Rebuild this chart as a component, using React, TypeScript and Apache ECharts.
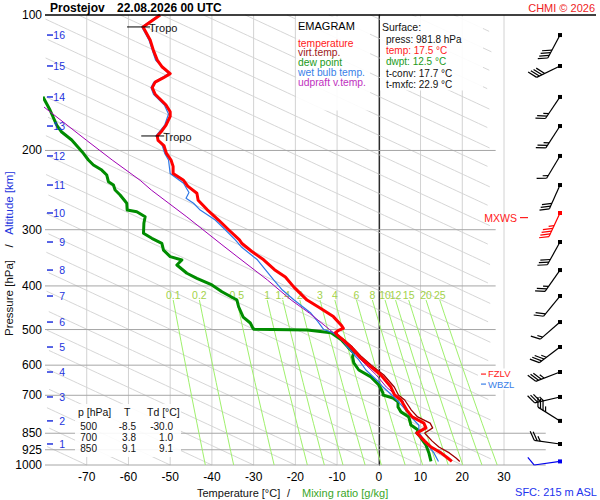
import React, { useEffect, useRef } from "react";
import * as echarts from "echarts";

const FONT = "'Liberation Sans', Arial, Helvetica, sans-serif";

const stationName = "Prostejov";
const stationTime = "22.08.2026 00 UTC";

// axes
const pressureTicks = [100, 200, 300, 400, 500, 600, 700, 850, 925, 1000];
const tempTicks = [-70, -60, -50, -40, -30, -20, -10, 0, 10, 20, 30];
const mixRatios = [0.1, 0.2, 0.5, 1, 1.4, 2, 3, 4, 6, 8, 10, 12, 15, 20, 25];

// temperature profile (hPa, °C)
const tempP = [100, 106.3, 113.6, 120, 125.9, 130.5, 135, 138, 141, 145, 150, 158.5, 164, 168, 175.6, 181, 185.7, 190, 195, 203, 210, 217, 225, 233, 240, 249, 258, 271, 285.5, 300, 316, 322, 335, 350, 368, 382, 402, 430, 449, 468, 489, 497, 503, 508, 514, 527, 547, 575, 600, 631, 671, 699, 717, 755, 782, 807, 827, 840, 849, 858, 885, 912, 940, 965, 981.8];
const tempT = [-52.4, -56.5, -54.8, -54.0, -53.1, -51.9, -50.0, -51.7, -53.6, -54.3, -53.6, -51.0, -50.0, -50.0, -51.0, -52.0, -53.1, -52.9, -51.5, -50.9, -49.8, -49.3, -49.3, -46.8, -45.8, -43.6, -43.3, -41.1, -38.4, -36.0, -33.4, -32.8, -30.5, -27.6, -25.0, -22.4, -20.4, -17.2, -13.9, -10.9, -9.0, -8.5, -9.8, -10.4, -10.0, -8.6, -6.7, -4.6, -2.4, 0.5, 2.9, 3.8, 5.3, 6.7, 8.0, 10.8, 11.3, 10.0, 9.1, 9.6, 11.0, 12.5, 14.9, 16.5, 17.5];

// virtual temperature
const virtP = [497, 503, 508, 514, 527, 547, 575, 600, 631, 671, 699, 717, 755, 782, 807, 827, 840, 849, 858, 885, 912, 940, 965, 981.8];
const virtT = [-8.4, -9.6, -10.2, -9.8, -8.3, -6.3, -4.1, -1.8, 1.2, 3.7, 4.7, 6.2, 7.8, 9.3, 12.3, 12.9, 11.8, 11.0, 11.4, 12.8, 14.4, 16.9, 18.5, 19.4];

// dew point
const dewP = [152, 162.6, 175.6, 182, 189.6, 202.9, 210, 215.4, 221.1, 226.8, 234.6, 238.7, 244.9, 251.2, 262.1, 271.3, 273.6, 280.7, 290.3, 305.6, 313.5, 321.7, 333, 344.4, 350.3, 359.4, 374.9, 384.8, 398.1, 412.1, 430, 445, 469, 483.6, 496, 499, 501, 508, 527, 547, 564, 575, 593, 615, 637, 664, 692, 699, 710, 724, 743, 762, 782, 815, 836, 849, 858, 903, 940, 981.8];
const dewT = [-80.5, -78.8, -77.2, -76.0, -73.6, -70.8, -69.6, -68.4, -66.4, -65.2, -64.8, -63.6, -63.2, -62.0, -60.4, -60.3, -58.0, -56.0, -56.3, -56.4, -54.4, -52.0, -51.6, -50.0, -47.2, -48.4, -46.0, -43.6, -40.0, -37.6, -34.0, -33.6, -32.5, -30.8, -30.2, -30.0, -17.1, -11.5, -9.0, -7.4, -6.0, -6.3, -6.0, -4.8, -1.9, 0.0, 1.0, 1.0, 3.4, 4.6, 4.6, 5.3, 7.2, 7.7, 9.4, 9.1, 9.6, 11.3, 12.0, 12.5];

// wet bulb temperature
const wetP = [100, 106.3, 113.6, 125.9, 135, 141, 145, 150, 158.5, 166, 175.6, 185.7, 195, 203, 210, 225, 233, 236.6, 248, 255.5, 262, 271.3, 285.5, 300, 316, 327.3, 350, 388, 408.5, 430, 459.5, 480, 496, 500, 508, 520, 547, 584, 615, 654, 671, 706, 743, 782, 816, 845, 880, 940, 981.8];
const wetT = [-52.7, -56.8, -55.1, -53.5, -50.4, -53.9, -54.6, -54.0, -51.4, -50.4, -51.3, -53.4, -51.9, -51.3, -50.4, -50.0, -47.8, -46.8, -45.5, -46.2, -44.4, -42.8, -39.2, -36.8, -34.4, -33.0, -29.1, -25.2, -23.1, -20.3, -16.3, -14.6, -13.5, -13.2, -11.0, -9.3, -7.5, -4.8, -3.1, 0.0, 1.0, 3.6, 5.8, 7.7, 9.6, 9.6, 10.8, 13.2, 14.3];

// updraft virtual temperature
const updP = [160, 190, 210, 233, 245, 281, 324, 344, 388, 430, 460, 500, 509, 546, 584, 631, 671, 706, 723];
const updT = [-80.3, -70.0, -63.9, -57.2, -54.5, -46.0, -37.6, -34.0, -26.7, -21.0, -16.6, -11.8, -10.8, -7.2, -4.3, -0.6, 1.8, 4.6, 6.0];

// tropopauses
const tropoP = [106.3, 185.7];
const tropoT = [-56.5, -53.1];

// altitude marks (km) and their pressure
const altKm = [16, 15, 14, 13, 12, 11, 10, 9, 8, 7, 6, 5, 4, 3, 2, 1];
const altP = [110.8, 129.8, 152.1, 176.5, 205.7, 238.7, 275.4, 319.5, 368.8, 421.2, 481.2, 546.8, 621.4, 706, 798, 898];

// wind (at altitude marks + surface)
const windP = [...altP, 981.8];
const windDir = [208, 244, 214, 213, 211, 204, 205, 209, 215, 219, 229, 233, 249, 257, 302, 278, 262];
const windSpd = [40, 40, 25, 25, 15, 30, 45, 30, 25, 20, 15, 35, 35, 35, 35, 25, 10];
const mxwsIndex = 6;

// special levels
const levelNames = ["MXWS", "FZLV", "WBZL"];
const levelP = [282, 628, 661];

// surface
const sfcPress = 981.8;
const sfcTemp = 17.5;
const sfcDwpt = 12.5;
const tConv = 17.7;
const tMxfc = 22.9;
const sfcHeight = 215;

// table
const tableP = [500, 700, 850];
const tableT = [-8.5, 3.8, 9.1];
const tableTd = [-30.0, 1.0, 9.1];

const STATION = 55; // x (px offset) of barb station inside wind grid
const ADIABAT_SLOPE = 232; // °C per decade of pressure (background guide lines)

const pts = (P: number[], T: number[]) => P.map((p, i) => [T[i], p]);

function tdFromMix(w: number, p: number) {
  const e = (w * p) / (622 + w);
  const l = Math.log(e / 6.112);
  return (243.5 * l) / (17.67 - l);
}

function txt(x: number, y: number, text: string, fill: string, size: number, extra: any = {}) {
  return {
    type: "text",
    x,
    y,
    z: 20,
    silent: true,
    style: {
      text,
      fill,
      fontSize: size,
      fontFamily: FONT,
      align: "left",
      verticalAlign: "middle",
      ...extra,
    },
  };
}

function buildOption(): any {
  const guideBases: number[] = [];
  for (let t = -80; t <= 270; t += 10) guideBases.push(t);

  const profile = (P: number[], T: number[], color: string, width: number, z: number) => ({
    type: "line",
    xAxisIndex: 0,
    yAxisIndex: 0,
    data: pts(P, T),
    showSymbol: false,
    symbol: "none",
    silent: true,
    z,
    lineStyle: { color, width, join: "round" },
  });

  const rowY = (i: number) => 426.5 + i * 11;

  const graphic: any[] = [
    { type: "line", z: 20, shape: { x1: 45, y1: 15, x2: 596, y2: 15 }, style: { stroke: "#000", lineWidth: 1.5 } },
    txt(50, 7.5, stationName, "#000", 12, { fontWeight: "bold" }),
    txt(117, 7.5, stationTime, "#000", 12, { fontWeight: "bold" }),
    txt(595, 7.5, "CHMI © 2026", "#ee1c24", 11, { align: "right" }),
    // legend box
    { type: "rect", z: 15, shape: { x: 296, y: 16.5, width: 74, height: 94 }, style: { fill: "rgba(255,255,255,0.9)" } },
    txt(298, 26, "EMAGRAM", "#000", 11),
    txt(298, 43, "temperature", "#ff2020", 10.3),
    txt(298, 52.5, "virt.temp.", "#a01818", 10.3),
    txt(298, 62, "dew point", "#1a9a1a", 10.3),
    txt(298, 72, "wet bulb temp.", "#3a7fe8", 10.3),
    txt(298, 82, "udpraft v.temp.", "#c030c0", 10.3),
    // surface box
    { type: "rect", z: 15, shape: { x: 380, y: 16.5, width: 103, height: 74 }, style: { fill: "rgba(255,255,255,0.9)" } },
    txt(382, 27, "Surface:", "#111", 10.5),
    txt(386, 39.5, `press: ${sfcPress.toFixed(1)} hPa`, "#111", 10),
    txt(386, 50.5, `temp: ${sfcTemp.toFixed(1)} °C`, "#ff2020", 10),
    txt(386, 61.5, `dwpt: ${sfcDwpt.toFixed(1)} °C`, "#1a9a1a", 10),
    txt(386, 73.5, `t-conv: ${tConv.toFixed(1)} °C`, "#111", 10),
    txt(386, 84.5, `t-mxfc: ${tMxfc.toFixed(1)} °C`, "#111", 10),
    // table
    { type: "rect", z: 15, shape: { x: 75, y: 404, width: 106, height: 53 }, style: { fill: "rgba(255,255,255,0.9)" } },
    txt(78, 412, "p [hPa]", "#111", 10.5),
    txt(124, 412, "T", "#111", 10.5),
    txt(147, 412, "Td [°C]", "#111", 10.5),
    ...tableP.flatMap((p, i) => [
      txt(97, rowY(i), String(p), "#111", 10, { align: "right" }),
      txt(136, rowY(i), tableT[i].toFixed(1), "#111", 10, { align: "right" }),
      txt(173, rowY(i), tableTd[i].toFixed(1), "#111", 10, { align: "right" }),
    ]),
    // axis titles
    txt(197, 493, "Temperature [°C]", "#111", 11),
    txt(287, 493, "/", "#111", 11),
    txt(302, 493, "Mixing ratio [g/kg]", "#3aa62a", 11),
    txt(597, 492, `SFC: ${sfcHeight} m ASL`, "#2233ee", 11, { align: "right" }),
    { ...txt(9, 298, "Pressure [hPa]", "#111", 11.5, { align: "center" }), rotation: Math.PI / 2 },
    { ...txt(9, 246, "/", "#111", 11.5, { align: "center" }), rotation: Math.PI / 2 },
    { ...txt(9, 203, "Altitude [km]", "#2233dd", 11.5, { align: "center" }), rotation: Math.PI / 2 },
  ];

  const series: any[] = [
    // diagonal guide lines (adiabats)
    {
      type: "custom",
      xAxisIndex: 0,
      yAxisIndex: 0,
      silent: true,
      z: 1,
      data: guideBases.map((t) => [0, 500, t]),
      renderItem: (_p: any, api: any) => {
        const tb = api.value(2);
        const points: number[][] = [];
        for (let k = 0; k <= 220; k++) {
          const p = 100 * Math.pow(10, k / 220);
          const T = tb + ADIABAT_SLOPE * Math.log10(p / 1000);
          if (T >= -80 && T <= 27) points.push(api.coord([T, p]));
        }
        if (points.length < 2) return null;
        return { type: "polyline", shape: { points }, style: { stroke: "#d6d6d6", lineWidth: 1, fill: null } };
      },
    },
    // isotherms
    {
      type: "custom",
      xAxisIndex: 0,
      yAxisIndex: 0,
      silent: true,
      z: 1,
      data: tempTicks.map((t) => [t, 500]),
      renderItem: (_p: any, api: any) => {
        const t = api.value(0);
        const a = api.coord([t, 100]);
        const b = api.coord([t, 1000]);
        return {
          type: "line",
          shape: { x1: a[0], y1: a[1], x2: b[0], y2: b[1] },
          style: { stroke: t === 0 ? "#8a8a8a" : "#d2d2d2", lineWidth: 1 },
        };
      },
    },
    // isobars
    {
      type: "custom",
      xAxisIndex: 0,
      yAxisIndex: 0,
      silent: true,
      clip: false,
      z: 1,
      data: pressureTicks.slice(1).map((p) => [0, p]),
      renderItem: (_p: any, api: any) => {
        const p = api.value(1);
        const a = api.coord([-80, p]);
        const b = api.coord([p >= 850 ? 40 : 28, p]);
        return {
          type: "line",
          shape: { x1: a[0], y1: a[1], x2: b[0], y2: b[1] },
          style: { stroke: "#a6a6a6", lineWidth: 1 },
        };
      },
    },
    // mixing ratio lines
    {
      type: "custom",
      xAxisIndex: 0,
      yAxisIndex: 0,
      silent: true,
      clip: false,
      z: 1,
      data: mixRatios.map((w, i) => [0, 500, i]),
      renderItem: (_p: any, api: any) => {
        const w = mixRatios[api.value(2)];
        const points: number[][] = [];
        for (let k = 0; k <= 12; k++) {
          const p = 430 * Math.pow(1000 / 430, k / 12);
          points.push(api.coord([tdFromMix(w, p), p]));
        }
        const top = api.coord([tdFromMix(w, 430), 430]);
        return {
          type: "group",
          children: [
            { type: "polyline", shape: { points }, style: { stroke: "#9ff06c", lineWidth: 1, fill: null } },
            {
              type: "text",
              x: top[0],
              y: top[1] - 5,
              style: {
                text: String(w),
                fill: "#a3d24a",
                fontSize: 10.5,
                fontFamily: FONT,
                align: "center",
                verticalAlign: "middle",
              },
            },
          ],
        };
      },
    },
    // pressure labels
    {
      type: "custom",
      xAxisIndex: 0,
      yAxisIndex: 0,
      silent: true,
      clip: false,
      z: 5,
      data: pressureTicks.map((p) => [-80, p]),
      renderItem: (_p: any, api: any) => {
        const p = api.value(1);
        const c = api.coord([-80, p]);
        return {
          type: "text",
          x: c[0] - 3,
          y: c[1],
          style: { text: String(p), fill: "#000", fontSize: 12, fontFamily: FONT, align: "right", verticalAlign: "middle" },
        };
      },
    },
    // altitude marks
    {
      type: "custom",
      xAxisIndex: 0,
      yAxisIndex: 0,
      silent: true,
      clip: false,
      z: 5,
      data: altKm.map((k, i) => [-80, altP[i], k]),
      renderItem: (_p: any, api: any) => {
        const c = api.coord([-80, api.value(1)]);
        return {
          type: "group",
          children: [
            { type: "line", shape: { x1: c[0] + 2, y1: c[1], x2: c[0] + 8, y2: c[1] }, style: { stroke: "#2233dd", lineWidth: 1.5 } },
            {
              type: "text",
              x: c[0] + 20,
              y: c[1],
              style: { text: String(api.value(2)), fill: "#2233dd", fontSize: 10.5, fontFamily: FONT, align: "right", verticalAlign: "middle" },
            },
          ],
        };
      },
    },
    // tropopause marks
    {
      type: "custom",
      xAxisIndex: 0,
      yAxisIndex: 0,
      silent: true,
      clip: false,
      z: 9,
      data: tropoP.map((p, i) => [tropoT[i], p]),
      renderItem: (_p: any, api: any) => {
        const c = api.coord([api.value(0), api.value(1)]);
        return {
          type: "group",
          children: [
            { type: "line", shape: { x1: c[0] - 16, y1: c[1], x2: c[0] + 7, y2: c[1] }, style: { stroke: "#000", lineWidth: 1 } },
            {
              type: "text",
              x: c[0] + 6,
              y: c[1] + 1,
              style: { text: "Tropo", fill: "#111", fontSize: 11, fontFamily: FONT, align: "left", verticalAlign: "middle" },
            },
          ],
        };
      },
    },
    profile(dewP, dewT, "#008c00", 3, 3),
    profile(wetP, wetT, "#2f78e6", 1.2, 4),
    profile(updP, updT, "#a000b4", 1, 5),
    profile(virtP, virtT, "#9c0000", 1.3, 6),
    profile(tempP, tempT, "#ff0000", 3, 7),
    // wind barbs
    {
      type: "custom",
      xAxisIndex: 1,
      yAxisIndex: 1,
      silent: true,
      clip: false,
      z: 8,
      data: windP.map((p, i) => [STATION, p, i]),
      renderItem: (_p: any, api: any) => {
        const i = api.value(2);
        const c = api.coord([STATION, windP[i]]);
        const col = i === mxwsIndex ? "#ff0000" : i === windP.length - 1 ? "#0000ee" : "#000";
        const d = (windDir[i] * Math.PI) / 180;
        const ux = Math.sin(d);
        const uy = -Math.cos(d);
        const L = 26;
        const tip = [c[0] + ux * L, c[1] + uy * L];
        const px = -uy;
        const py = ux;
        const ang = (32 * Math.PI) / 180;
        const fx = px * Math.cos(ang) + ux * Math.sin(ang);
        const fy = py * Math.cos(ang) + uy * Math.sin(ang);
        const children: any[] = [
          { type: "line", shape: { x1: c[0], y1: c[1], x2: tip[0], y2: tip[1] }, style: { stroke: col, lineWidth: 1.2 } },
          { type: "rect", shape: { x: c[0] - 2, y: c[1] - 2, width: 4, height: 4 }, style: { fill: col } },
        ];
        const spd = windSpd[i];
        const full = Math.floor(spd / 10);
        const half = spd % 10 >= 5 ? 1 : 0;
        let pos = 0;
        for (let k = 0; k < full; k++) {
          const bx = tip[0] - ux * pos;
          const by = tip[1] - uy * pos;
          children.push({ type: "line", shape: { x1: bx, y1: by, x2: bx + fx * 10, y2: by + fy * 10 }, style: { stroke: col, lineWidth: 1.2 } });
          pos += 3;
        }
        if (half) {
          if (full === 0) pos = 3;
          const bx = tip[0] - ux * pos;
          const by = tip[1] - uy * pos;
          children.push({ type: "line", shape: { x1: bx, y1: by, x2: bx + fx * 5.5, y2: by + fy * 5.5 }, style: { stroke: col, lineWidth: 1.2 } });
        }
        return { type: "group", children };
      },
    },
    // special level labels
    {
      type: "custom",
      xAxisIndex: 1,
      yAxisIndex: 1,
      silent: true,
      clip: false,
      z: 16,
      data: levelP.map((p, i) => [STATION, p, i]),
      renderItem: (_p: any, api: any) => {
        const i = api.value(2);
        const c = api.coord([STATION, levelP[i]]);
        const col = i === 2 ? "#3a7fe8" : "#ff2020";
        if (i === 0) {
          return {
            type: "group",
            children: [
              { type: "line", shape: { x1: c[0] - 40, y1: c[1], x2: c[0] - 32, y2: c[1] }, style: { stroke: col, lineWidth: 1.2 } },
              {
                type: "text",
                x: c[0] - 43,
                y: c[1],
                style: { text: levelNames[i], fill: col, fontSize: 10.5, fontFamily: FONT, align: "right", verticalAlign: "middle" },
              },
            ],
          };
        }
        const dy = i === 1 ? -0.7 : 0.7;
        return {
          type: "group",
          children: [
            { type: "rect", shape: { x: c[0] - 82, y: c[1] - 5.5, width: 45, height: 11 }, style: { fill: "#fff" } },
            { type: "line", shape: { x1: c[0] - 79, y1: c[1], x2: c[0] - 74, y2: c[1] }, style: { stroke: col, lineWidth: 1.2 } },
            {
              type: "text",
              x: c[0] - 72,
              y: c[1] + dy,
              style: { text: levelNames[i], fill: col, fontSize: 9.5, fontFamily: FONT, align: "left", verticalAlign: "middle" },
            },
          ],
        };
      },
    },
  ];

  return {
    animation: false,
    backgroundColor: "#ffffff",
    grid: [
      { left: 45, top: 15, width: 459, height: 450 },
      { left: 505, top: 15, width: 95, height: 450 },
    ],
    xAxis: [
      {
        gridIndex: 0,
        type: "value",
        min: -80,
        max: 30,
        interval: 10,
        axisLine: { show: false },
        axisTick: { show: false },
        splitLine: { show: false },
        axisLabel: {
          fontSize: 12,
          color: "#000",
          fontFamily: FONT,
          margin: 6,
          formatter: (v: number) => (v === -80 ? "" : String(v)),
        },
      },
      { gridIndex: 1, type: "value", min: 0, max: 95, show: false },
    ],
    yAxis: [
      {
        gridIndex: 0,
        type: "log",
        logBase: 10,
        min: 100,
        max: 1000,
        inverse: true,
        axisLine: { show: true, lineStyle: { color: "#000", width: 1.2 } },
        axisTick: { show: false },
        axisLabel: { show: false },
        splitLine: { show: false },
      },
      { gridIndex: 1, type: "log", logBase: 10, min: 100, max: 1000, inverse: true, show: false },
    ],
    graphic,
    series,
  };
}

export default function App() {
  const ref = useRef<HTMLDivElement>(null);
  useEffect(() => {
    document.body.style.margin = "0";
    const chart = echarts.init(ref.current as HTMLDivElement, null, { renderer: "svg" });
    chart.setOption(buildOption());
    return () => chart.dispose();
  }, []);
  return <div ref={ref} style={{ width: 600, height: 500 }} />;
}
